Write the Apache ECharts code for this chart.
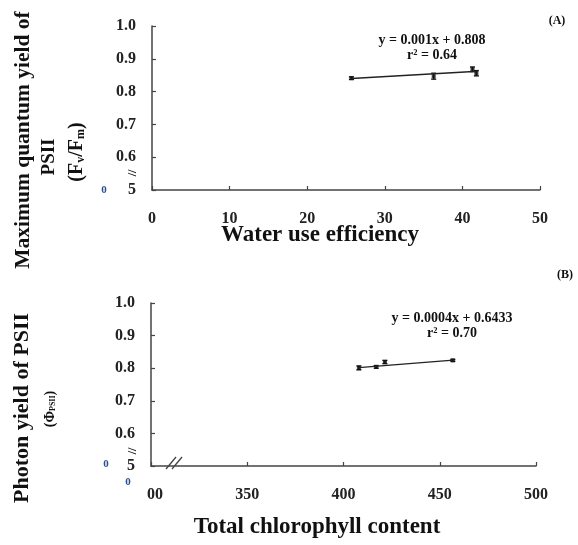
<!DOCTYPE html>
<html>
<head>
<meta charset="utf-8">
<script src="https://cdn.jsdelivr.net/npm/echarts@6/dist/echarts.min.js"></script>
<style>
  html, body { margin: 0; padding: 0; background: #fff; }
  #chart { width: 578px; height: 545px; }
</style>
</head>
<body>
<div id="chart"></div>
<script>
// (A) water use efficiency vs Fv/Fm
const wueX = [25.7, 36.3, 41.3, 41.8];
const fvfmY = [0.841, 0.847, 0.868, 0.856];
const fvfmErr = [0.004, 0.009, 0.007, 0.008];
const wueFitX = [25.7, 42];
const wueFitY = [0.840, 0.862];

// (B) total chlorophyll vs PhiPSII
const chlX = [408, 417, 421.5, 456.8];
const phiY = [0.801, 0.804, 0.819, 0.824];
const phiErr = [0.006, 0.004, 0.005, 0.003];
const chlFitX = [408, 457];
const chlFitY = [0.802, 0.825];

const SERIF = 'Liberation Serif';
const INK = '#111';
const AXIS = '#444';

const chart = echarts.init(document.getElementById('chart'));

// error bars with small caps
const errorBars = (params, api) => {
  const x = api.value(0), y = api.value(1), e = api.value(2);
  const top = api.coord([x, y + e]);
  const bot = api.coord([x, y - e]);
  const w = 2.5;
  const st = { stroke: INK, lineWidth: 1.4 };
  return {
    type: 'group',
    children: [
      { type: 'line', shape: { x1: top[0], y1: top[1], x2: bot[0], y2: bot[1] }, style: st },
      { type: 'line', shape: { x1: top[0] - w, y1: top[1], x2: top[0] + w, y2: top[1] }, style: st },
      { type: 'line', shape: { x1: bot[0] - w, y1: bot[1], x2: bot[0] + w, y2: bot[1] }, style: st }
    ]
  };
};

const axisBase = {
  type: 'value',
  axisLine: { show: true, lineStyle: { color: AXIS, width: 1.5 } },
  axisTick: { show: true, inside: true, length: 4, lineStyle: { color: AXIS, width: 1.2 } },
  splitLine: { show: false },
  axisLabel: { fontFamily: SERIF, fontWeight: 'bold', fontSize: 16, color: '#222' }
};

const hidden = { color: 'rgba(0,0,0,0)', fontFamily: SERIF, fontWeight: 'bold', fontSize: 16 };

const yLabel = (v) => Math.abs(v - 0.5) < 1e-6 ? '{h|0.}5' : v.toFixed(1);

const txt = (text, x, y, size, extra) => Object.assign({
  type: 'text', x: x, y: y,
  style: Object.assign({
    text: text, fill: INK, align: 'center', verticalAlign: 'middle',
    fontFamily: SERIF, fontWeight: 'bold', fontSize: size
  }, extra && extra.style)
}, extra && extra.el);

const sub = { sub: { fontFamily: SERIF, fontWeight: 'bold', fontSize: 12, verticalAlign: 'bottom', padding: [8, 0, 0, 0], fill: INK } };
const subSmall = { sub: { fontFamily: SERIF, fontWeight: 'bold', fontSize: 8, padding: [6, 0, 0, 0], fill: INK } };
const rot = { rotation: Math.PI / 2 };

const options = {
  animation: false,
  backgroundColor: '#fff',
  grid: [
    { left: 152, top: 26, width: 388, height: 164 },
    { left: 151, top: 303, width: 385, height: 163 }
  ],
  xAxis: [
    Object.assign({}, axisBase, {
      gridIndex: 0, min: 0, max: 50, interval: 10,
      axisLabel: Object.assign({}, axisBase.axisLabel, { margin: 21 })
    }),
    Object.assign({}, axisBase, {
      gridIndex: 1, min: 300, max: 500, interval: 50,
      axisLabel: Object.assign({}, axisBase.axisLabel, {
        margin: 21,
        formatter: (v) => v === 300 ? '{h|3}00' : String(v),
        rich: { h: hidden }
      })
    })
  ],
  yAxis: [
    Object.assign({}, axisBase, {
      gridIndex: 0, min: 0.5, max: 1.0, interval: 0.1,
      axisLabel: Object.assign({}, axisBase.axisLabel, { margin: 16, formatter: yLabel, rich: { h: hidden } })
    }),
    Object.assign({}, axisBase, {
      gridIndex: 1, min: 0.5, max: 1.0, interval: 0.1,
      axisLabel: Object.assign({}, axisBase.axisLabel, { margin: 16, formatter: yLabel, rich: { h: hidden } })
    })
  ],
  series: [
    {
      type: 'line', xAxisIndex: 0, yAxisIndex: 0,
      data: wueFitX.map((x, i) => [x, wueFitY[i]]),
      showSymbol: false, lineStyle: { color: '#222', width: 1.3 }
    },
    {
      type: 'custom', xAxisIndex: 0, yAxisIndex: 0,
      data: wueX.map((x, i) => [x, fvfmY[i], fvfmErr[i]]),
      renderItem: errorBars
    },
    {
      type: 'scatter', xAxisIndex: 0, yAxisIndex: 0,
      data: wueX.map((x, i) => [x, fvfmY[i]]),
      symbol: 'rect', symbolSize: 4, itemStyle: { color: INK }
    },
    {
      type: 'line', xAxisIndex: 1, yAxisIndex: 1,
      data: chlFitX.map((x, i) => [x, chlFitY[i]]),
      showSymbol: false, lineStyle: { color: '#222', width: 1.3 }
    },
    {
      type: 'custom', xAxisIndex: 1, yAxisIndex: 1,
      data: chlX.map((x, i) => [x, phiY[i], phiErr[i]]),
      renderItem: errorBars
    },
    {
      type: 'scatter', xAxisIndex: 1, yAxisIndex: 1,
      data: chlX.map((x, i) => [x, phiY[i]]),
      symbol: 'rect', symbolSize: 4, itemStyle: { color: INK }
    }
  ],
  graphic: [
    // panel A
    txt('(A)', 557, 21, 12),
    txt('y = 0.001x + 0.808', 432, 40, 14),
    txt('r² = 0.64', 432, 55, 14),
    txt('Maximum quantum yield of', 23, 140, 21.5, { el: rot }),
    txt('PSII', 49, 157, 19, { el: rot }),
    txt('(F{sub|v}/F{sub|m})', 77, 152, 20, { el: rot, style: { rich: sub } }),
    txt('Water use efficiency', 320, 235, 23),
    txt('//', 133, 173, 12, { el: rot }),
    txt('0', 104, 190, 11, { style: { fill: '#2b4f8a' } }),
    // panel B
    txt('(B)', 565, 275, 12),
    txt('y = 0.0004x + 0.6433', 452, 318, 14),
    txt('r² = 0.70', 452, 333, 14),
    txt('Photon yield of PSII', 22, 408, 22, { el: rot }),
    txt('(Φ{sub|PSII})', 50, 409, 14, { el: rot, style: { rich: subSmall } }),
    txt('Total chlorophyll content', 317, 527, 23),
    txt('//', 133, 451, 12, { el: rot }),
    txt('0', 106, 464, 11, { style: { fill: '#2b4f8a' } }),
    txt('0', 128, 482, 11, { style: { fill: '#2b4f8a' } }),
    { type: 'line', shape: { x1: 166, y1: 469, x2: 176, y2: 457 }, style: { stroke: AXIS, lineWidth: 1.3 } },
    { type: 'line', shape: { x1: 172, y1: 469, x2: 182, y2: 457 }, style: { stroke: AXIS, lineWidth: 1.3 } }
  ]
};

chart.setOption(options);
window.addEventListener('resize', () => chart.resize());
</script>
</body>
</html>
